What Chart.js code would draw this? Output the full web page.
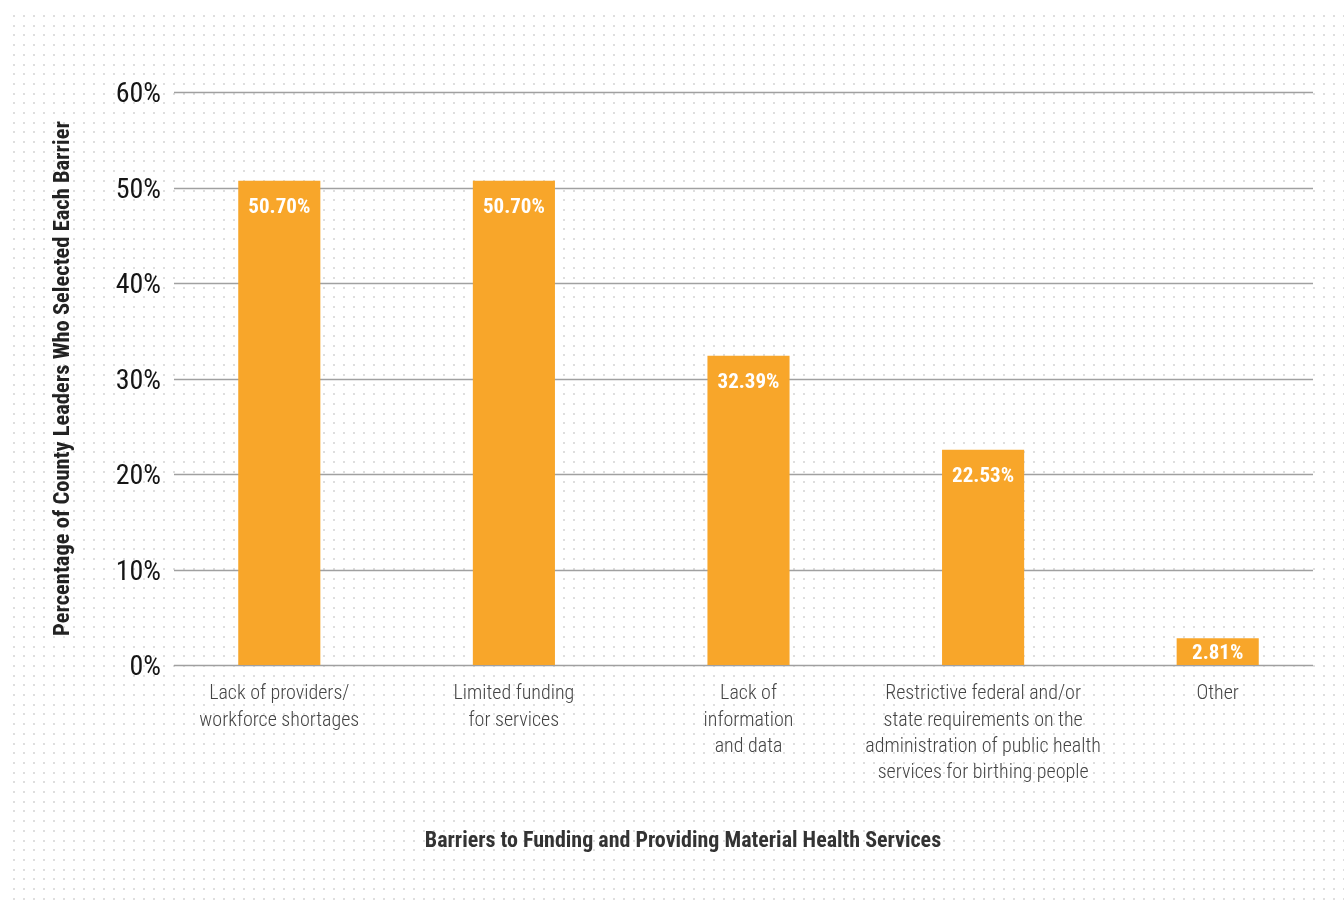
<!DOCTYPE html>
<html>
<head>
<meta charset="utf-8">
<script src="https://cdn.jsdelivr.net/npm/chart.js@4/dist/chart.umd.min.js"></script>
<style>
  html, body { margin: 0; padding: 0; background: #fff; }
  #wrap { width: 1344px; height: 906px; position: relative; }
</style>
</head>
<body>
<div id="wrap"><canvas id="barChart" width="1344" height="906"></canvas></div>
<script>
// chart data
const categories = [
  ["Lack of providers/", "workforce shortages"],
  ["Limited funding", "for services"],
  ["Lack of", "information", "and data"],
  ["Restrictive federal and/or", "state requirements on the", "administration of public health", "services for birthing people"],
  ["Other"]
];
const barrierValues = [50.70, 50.70, 32.39, 22.53, 2.81];
const yTicks = [0, 10, 20, 30, 40, 50, 60];

const yTitle = "Percentage of County Leaders Who Selected Each Barrier";
const xTitle = "Barriers to Funding and Providing Material Health Services";

const FONT = "'Roboto Condensed', 'Liberation Sans Narrow', 'DejaVu Sans Condensed', Roboto, sans-serif";
const barColor = "#F8A62A";

// dotted paper background
const dotsBg = {
  id: 'dotsBg',
  beforeDraw(chart) {
    const ctx = chart.ctx;
    ctx.save();
    ctx.fillStyle = '#fff';
    ctx.fillRect(0, 0, chart.width, chart.height);
    ctx.fillStyle = '#dedede';
    for (let y = 15; y < chart.height; y += 9.7) {
      for (let x = 13; x < chart.width; x += 10) {
        ctx.fillRect(Math.round(x), Math.round(y), 2, 2);
      }
    }
    ctx.restore();
  }
};

// horizontal grid lines (a bit shorter than the category band)
const gridLines = {
  id: 'gridLines',
  beforeDatasetsDraw(chart) {
    const ctx = chart.ctx;
    const y = chart.scales.y;
    const area = chart.chartArea;
    ctx.save();
    ctx.strokeStyle = '#a0a0a0';
    ctx.lineWidth = 1.5;
    yTicks.forEach(v => {
      const py = Math.round(y.getPixelForValue(v)) + 0.5;
      ctx.beginPath();
      ctx.moveTo(area.left + 12, py);
      ctx.lineTo(area.right - 22, py);
      ctx.stroke();
    });
    ctx.restore();
  }
};

// value labels inside the bars + x axis title (centred on the page, not the scale)
const valueLabels = {
  id: 'valueLabels',
  afterDatasetsDraw(chart) {
    const ctx = chart.ctx;
    const meta = chart.getDatasetMeta(0);
    ctx.save();
    ctx.fillStyle = '#fff';
    ctx.font = "bold 21px " + FONT;
    ctx.textAlign = 'center';
    ctx.textBaseline = 'middle';
    meta.data.forEach((bar, i) => {
      const ty = Math.min(bar.y + 27, (bar.y + bar.base) / 2 + 2);
      ctx.fillText(barrierValues[i].toFixed(2) + '%', bar.x, ty);
    });

    ctx.fillStyle = '#333';
    ctx.font = "bold 22px " + FONT;
    ctx.fillText(xTitle, chart.width / 2 + 11, chart.scales.x.bottom - 65);
    ctx.restore();
  }
};

const ctx = document.getElementById('barChart').getContext('2d');
new Chart(ctx, {
  type: 'bar',
  data: {
    labels: categories,
    datasets: [{
      data: barrierValues,
      backgroundColor: barColor,
      barPercentage: 0.35,
      categoryPercentage: 1.0
    }]
  },
  options: {
    responsive: false,
    animation: false,
    layout: { padding: { top: 92, right: 9, bottom: 0, left: 0 } },
    plugins: {
      legend: { display: false },
      tooltip: { enabled: false }
    },
    scales: {
      x: {
        grid: { display: false, drawTicks: false },
        border: { display: false },
        ticks: {
          color: '#444',
          font: { family: FONT, size: 20, weight: '300', lineHeight: 1.32 },
          padding: 16,
          maxRotation: 0,
          autoSkip: false
        },
        afterFit(scale) { scale.height = 241; }
      },
      y: {
        min: 0,
        max: 60,
        grid: { display: false, drawTicks: false },
        border: { display: false },
        ticks: {
          stepSize: 10,
          color: '#151515',
          padding: 1,
          labelOffset: 3,
          font: { family: FONT, size: 28, weight: '400' },
          callback: v => v + '%'
        },
        title: {
          display: true,
          text: yTitle,
          color: '#222',
          font: { family: FONT, size: 22.5, weight: 'bold' },
          padding: { top: 50, bottom: 0 }
        },
        afterFit(scale) { scale.width = 162; }
      }
    }
  },
  plugins: [dotsBg, gridLines, valueLabels]
});
</script>
</body>
</html>
